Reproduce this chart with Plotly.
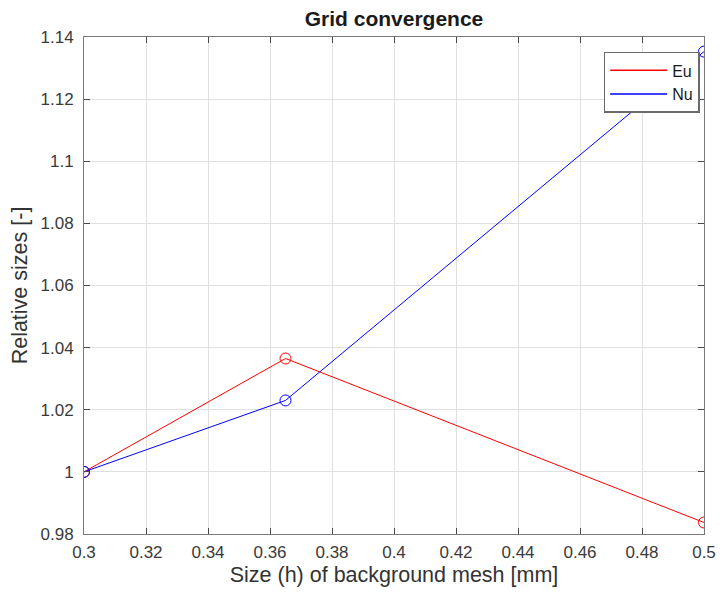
import plotly.graph_objects as go

# Mesh size h [mm] and relative quantities
h_mm = [0.3, 0.365, 0.5]
eu_rel = [1.0, 1.0365, 0.9837]
nu_rel = [1.0, 1.023, 1.1353]

x_ticks = [0.3, 0.32, 0.34, 0.36, 0.38, 0.4, 0.42, 0.44, 0.46, 0.48, 0.5]
x_tick_text = ["0.3", "0.32", "0.34", "0.36", "0.38", "0.4", "0.42", "0.44", "0.46", "0.48", "0.5"]
y_ticks = [0.98, 1.0, 1.02, 1.04, 1.06, 1.08, 1.1, 1.12, 1.14]
y_tick_text = ["0.98", "1", "1.02", "1.04", "1.06", "1.08", "1.1", "1.12", "1.14"]

RED = "#ff0000"
BLUE = "#0000ff"
FONT = "Liberation Sans, Arial, Helvetica, sans-serif"

fig = go.Figure()

for name, ys, col in [("Eu", eu_rel, RED), ("Nu", nu_rel, BLUE)]:
    fig.add_trace(go.Scatter(
        x=h_mm, y=ys, mode="lines+markers", name=name, showlegend=False,
        line=dict(color=col, width=1),
        marker=dict(symbol="circle-open", size=11, color=col, line=dict(width=1, color=col)),
    ))
    # line-only legend entry
    fig.add_trace(go.Scatter(
        x=[None], y=[None], mode="lines", name=name,
        line=dict(color=col, width=1.5),
    ))

axis_common = dict(
    showline=True, linecolor="#7a7a7a", linewidth=1, mirror="ticks",
    ticks="inside", ticklen=6, tickcolor="#4a4a4a", tickwidth=1,
    showgrid=True, gridcolor="#e0e0e0", gridwidth=1, zeroline=False,
    tickfont=dict(family=FONT, size=17, color="#3a3a3a"),
)

fig.update_layout(
    width=728, height=594,
    margin=dict(l=84, r=15, t=37, b=60),
    paper_bgcolor="white", plot_bgcolor="white",
    title=dict(text="<b>Grid convergence</b>", x=0.5, xref="paper", xanchor="center",
               y=1, yref="container", yanchor="top", pad=dict(t=11),
               font=dict(family=FONT, size=21, color="#1a1a1a")),
    xaxis=dict(range=[0.3, 0.5], tickvals=x_ticks, ticktext=x_tick_text,
               ticklabelstandoff=3,
               title=dict(text="Size (h) of background mesh [mm]", standoff=5,
                          font=dict(family=FONT, size=21.5, color="#333333")),
               **axis_common),
    yaxis=dict(range=[0.98, 1.14], tickvals=y_ticks, ticktext=y_tick_text,
               ticklabelstandoff=6,
               title=dict(text="Relative sizes [-]", standoff=6,
                          font=dict(family=FONT, size=21.5, color="#333333")),
               **axis_common),
    legend=dict(x=0.993, y=0.97, xanchor="right", yanchor="top",
                bgcolor="white", bordercolor="#6a6a6a", borderwidth=1.5,
                font=dict(family=FONT, size=16, color="#1a1a1a"),
                tracegroupgap=0, itemwidth=57),
    showlegend=True,
)

fig.write_html("out.html")
